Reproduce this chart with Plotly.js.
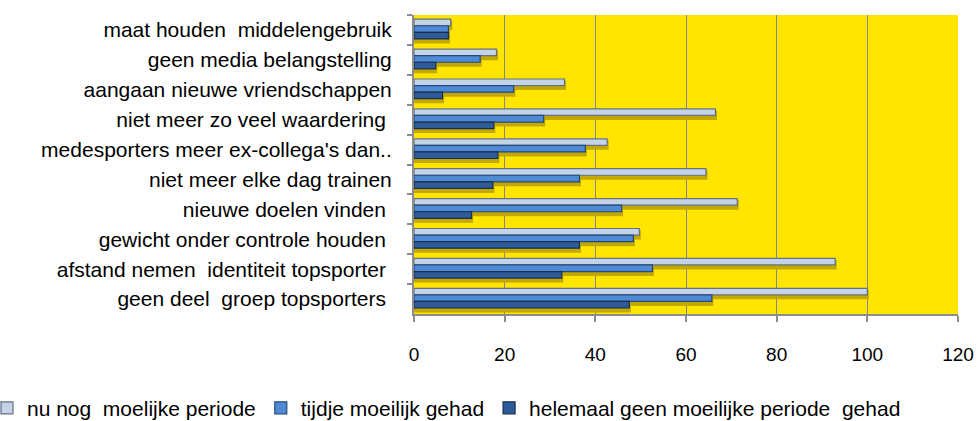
<!DOCTYPE html>
<html>
<head>
<meta charset="utf-8">
<script src="https://cdn.plot.ly/plotly-3.0.1.min.js"></script>
<style>html,body{margin:0;padding:0;background:#fff;}#chart{width:977px;height:421px;}</style>
</head>
<body>
<div id="chart"></div>
<script>
const categories = [
  "maat houden  middelengebruik",
  "geen media belangstelling",
  "aangaan nieuwe vriendschappen",
  "niet meer zo veel waardering\u00a0",
  "medesporters meer ex-collega's dan..",
  "niet meer elke dag trainen",
  "nieuwe doelen vinden\u00a0",
  "gewicht onder controle houden\u00a0",
  "afstand nemen  identiteit topsporter\u00a0",
  "geen deel  groep topsporters\u00a0"
];
const seriesNames = ["nu nog  moelijke periode", "tijdje moeilijk gehad", "helemaal geen moeilijke periode  gehad"];
const nuNog    = [8.1, 18.2, 33.2, 66.5, 42.6, 64.4, 71.3, 49.7, 92.9, 100];
const tijdje   = [7.6, 14.6, 22.0, 28.6, 37.8, 36.5, 45.8, 48.4, 52.6, 65.7];
const helemaal = [7.6, 4.8, 6.3, 17.6, 18.5, 17.4, 12.7, 36.5, 32.6, 47.5];
const xTicks = [0, 20, 40, 60, 80, 100, 120];

const fills = ["#c4d4e8", "#4f8ad4", "#2f5c98"];
const lines = ["#66707f", "#27487a", "#182f52"];
const vals = [nuNog, tijdje, helemaal];
const barW = 0.22;
const offsets = [-0.36, -0.14, 0.08];

const shadows = vals.map((v, i) => ({
  type: "bar", orientation: "h",
  x: v, y: categories,
  width: barW, offset: offsets[i] + 0.1,
  marker: {color: "#c2a800", line: {color: "#c2a800", width: 3}},
  showlegend: false, hoverinfo: "skip"
}));

const bars = vals.map((v, i) => ({
  type: "bar",
  orientation: "h",
  name: seriesNames[i],
  x: v,
  y: categories,
  width: barW,
  offset: offsets[i],
  marker: {color: fills[i], line: {color: lines[i], width: 1.2}},
  hoverinfo: "x+y"
}));

const layout = {
  width: 977, height: 421,
  margin: {l: 414, r: 19, t: 15, b: 107, autoexpand: false},
  paper_bgcolor: "#ffffff",
  plot_bgcolor: "#ffe500",
  barmode: "overlay",
  font: {family: "Liberation Sans, Arial, sans-serif", size: 20, color: "#000"},
  xaxis: {
    range: [0, 120],
    tickvals: xTicks,
    ticktext: xTicks.map(String),
    showgrid: true, gridcolor: "#85858f", gridwidth: 1,
    zeroline: false,
    showline: true, linecolor: "#8c8c8c", linewidth: 2,
    ticks: "outside", ticklen: 6, tickcolor: "#8c8c8c", tickwidth: 2,
    ticklabelstandoff: 16,
    tickfont: {size: 19, family: "Liberation Sans, Arial, sans-serif"},
    automargin: false,
    fixedrange: true
  },
  yaxis: {
    type: "category",
    autorange: "reversed",
    showgrid: false,
    showline: true, linecolor: "#8c8c8c", linewidth: 2,
    ticks: "outside", ticklen: 5, tickcolor: "#8c8c8c", tickwidth: 2,
    tickson: "boundaries",
    ticklabelstandoff: 16,
    tickfont: {size: 21, family: "Liberation Sans, Arial, sans-serif"},
    automargin: false,
    fixedrange: true
  },
  showlegend: true,
  legend: {
    orientation: "h",
    x: -0.785, xanchor: "left",
    y: -0.315, yanchor: "middle",
    font: {size: 21, family: "Liberation Sans, Arial, sans-serif"},
    itemwidth: 30,
    traceorder: "normal",
    bgcolor: "rgba(0,0,0,0)"
  }
};

Plotly.newPlot("chart", shadows.concat(bars), layout, {displayModeBar: false, staticPlot: true});
</script>
</body>
</html>
